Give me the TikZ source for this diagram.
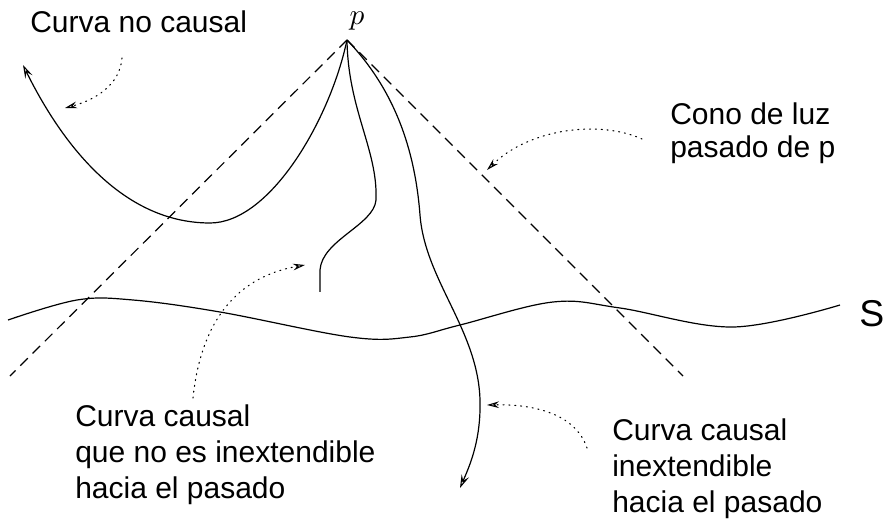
\documentclass[tikz,border=0pt]{standalone}
\usepackage{fontspec}
\newfontfamily\labfont{Liberation Sans}
\usetikzlibrary{arrows.meta}
\begin{document}
\begin{tikzpicture}[x=0.75pt,y=-0.75pt,
  curve/.style={line width=0.9pt, line join=round},
  cone/.style={line width=0.9pt, dash pattern=on 8pt off 5pt},
  pointer/.style={line width=0.8pt, dash pattern=on 0.8pt off 3.6pt, line cap=round,
    -{Stealth[open,length=9pt,width=5pt,inset=3pt,line width=0.8pt]}},
  tip/.style={-{Stealth[open,length=10pt,width=6pt,inset=4pt,line width=0.8pt]}},
  lab/.style={font=\labfont\fontsize{22.5pt}{26.8pt}\selectfont, inner sep=0pt, align=left, anchor=base west}]
\useasboundingbox (0,0) rectangle (885,520);
% apex and cone ends
\coordinate (p) at (347,40);
\coordinate (cl) at (10,376);
\coordinate (cr) at (683,376);
\node[inner sep=0pt, scale=2.2, anchor=base] (plab) at (357,25) {$p$};
% light cone
\draw[cone] (p) -- (cl);
\draw[cone] (p) -- (cr);
% hypersurface S
\draw[curve] plot[smooth, tension=0.6] coordinates {(8,320) (77,300) (133,300) (220,312) (350,337) (410,337) (460,325) (553,302) (620,308) (733,327) (840,305)};
\node[font=\labfont\fontsize{28pt}{32pt}\selectfont, inner sep=0pt, anchor=base west] (S) at (859,326) {S};
% non causal curve
\draw[curve, tip] (p) .. controls (330,120) and (270,223) .. (210,223) .. controls (120,223) and (60,140) .. (23,65);
% causal non inextendible curve
\draw[curve] (p) .. controls (348,110) and (378,150) .. (376,200) .. controls (374,225) and (322,240) .. (320,270) -- (320,292);
% inextendible curve
\draw[curve, tip] (p) .. controls (395,90) and (415,150) .. (420,215) .. controls (425,280) and (478,330) .. (480,400) .. controls (481,440) and (470,465) .. (460,488);
% labels
\node[lab] (t1) at (30,33) {Curva no causal};
\node[lab, font=\labfont\fontsize{22.5pt}{24.8pt}\selectfont] (t2) at (670,158) {Cono de luz\\pasado de p};
\node[lab] (t3) at (75,498) {Curva causal\\que no es inextendible\\hacia el pasado};
\node[lab] (t4) at (612,512) {Curva causal\\inextendible\\hacia el pasado};
% pointers
\coordinate (a1) at (122,58);
\coordinate (b1) at (65,108);
\draw[pointer] (a1) .. controls (120,85) and (95,100) .. (b1);
\coordinate (a2) at (642,139);
\coordinate (b2) at (487,170);
\draw[pointer] (a2) .. controls (600,120) and (530,128) .. (b2);
\coordinate (a3) at (193,398);
\coordinate (b3) at (305,265);
\draw[pointer] (a3) .. controls (200,330) and (230,278) .. (b3);
\coordinate (a4) at (587,448);
\coordinate (b4) at (487,405);
\draw[pointer] (a4) .. controls (575,412) and (530,404) .. (b4);
\end{tikzpicture}
\end{document}
